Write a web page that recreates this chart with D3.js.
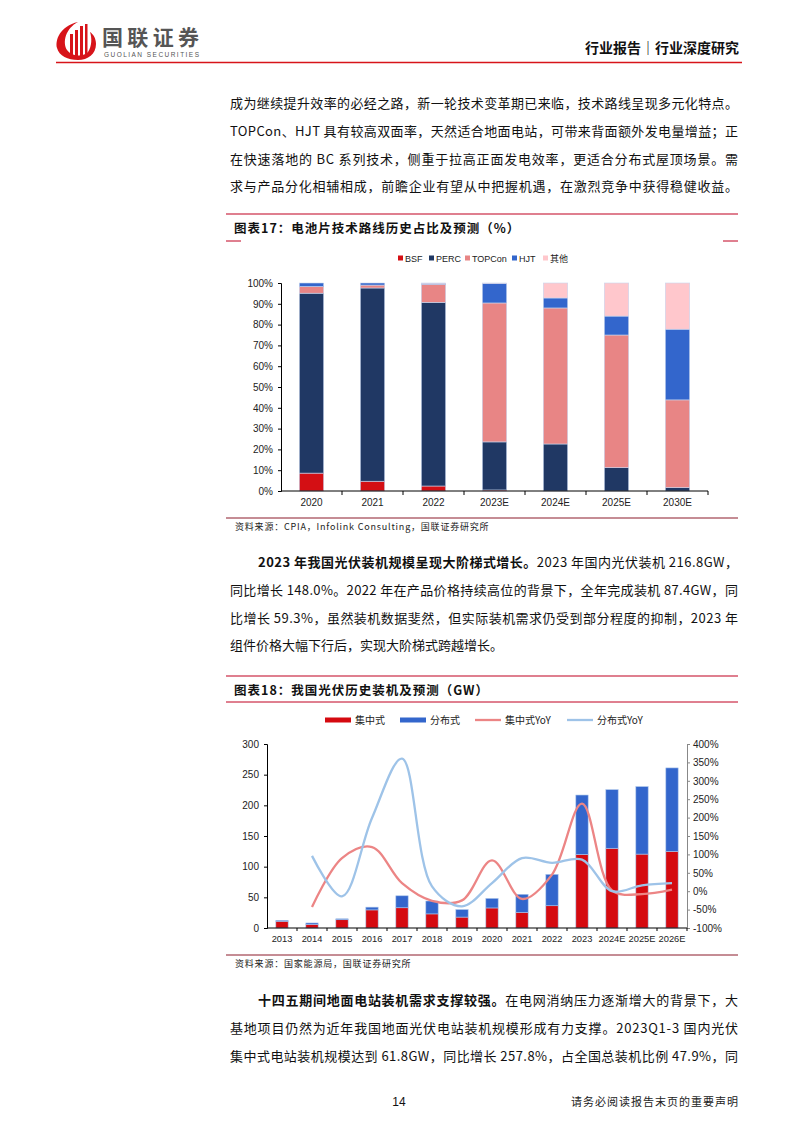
<!DOCTYPE html>
<html><head><meta charset="utf-8">
<script src="https://cdn.jsdelivr.net/npm/d3@7"></script>
<style>
body{margin:0;background:#fff;}
svg{display:block;}
text{font-family:"Noto Sans CJK SC","Noto Sans",sans-serif;}
.num{font-family:"Liberation Sans",Arial,sans-serif;}
</style></head>
<body>
<svg id="page" width="794" height="1123"></svg>
<script>
// ---------- Data: chart 17 ----------
const techCats = ["2020","2021","2022","2023E","2024E","2025E","2030E"];
const bsf    = [8.6, 4.7, 2.4, 0.5, 0, 0, 0];
const perc   = [86.5, 92.9, 88.3, 23.1, 22.6, 11.2, 1.6];
const topcon = [3.2, 1.4, 8.7, 66.8, 65.4, 63.8, 42.2];
const hjt    = [1.7, 1.0, 0.4, 9.4, 4.8, 9.1, 34.0];
const other  = [0, 0, 0.2, 0.2, 7.2, 15.9, 22.2];
const techNames = ["BSF","PERC","TOPCon","HJT","其他"];
const pctTicks = [0,10,20,30,40,50,60,70,80,90,100];

// ---------- Data: chart 18 ----------
const years = ["2013","2014","2015","2016","2017","2018","2019","2020","2021","2022","2023","2024E","2025E","2026E"];
const central     = [11, 6, 13.5, 29.5, 33, 23, 17.8, 32.7, 25.6, 36.3, 120, 130, 120.5, 125];
const distributed = [1.5, 2.2, 1.5, 4.5, 19.5, 21, 12.2, 15.5, 29.3, 51.1, 96.8, 95.5, 110, 136];
const centralYoY  = [null, -43, 90, 120, 22, -26, -25, 84, -21, 45, 238, 2, -8, 4];
const distYoY     = [null, 96, -14, 199, 360, 13, -41, 22, 90, 77, 86, 0, 16, 22];
const gwTicks = [0,50,100,150,200,250,300];
const yoyTicks = [-100,-50,0,50,100,150,200,250,300,350,400];
const installNames = ["集中式","分布式","集中式YoY","分布式YoY"];

const svg = d3.select("#page");
const RED = "#c00020";

// ---------- Header ----------
const logo = svg.append("g");
logo.append("path").attr("d","M78,22 C60,26 55,40 57,48 C59,56 68,60 78,60 C88,60 96,54 96,44 C96,38 93,34 90,32 C92,38 92,46 88,52 C84,57 72,57 67,50 C62,42 66,28 78,22 Z").attr("fill","#d7141a");
[[70,34,3,22],[75,30,3,26],[80,26,3,30],[85,24,2.5,30]].forEach(b=>logo.append("rect").attr("x",b[0]).attr("y",b[1]).attr("width",b[2]).attr("height",b[3]).attr("fill","#d7141a"));
svg.append("text").attr("x",102).attr("y",45).attr("font-size",21).attr("font-weight",700).attr("fill","#555").attr("textLength",97).text("国联证券");
svg.append("text").attr("class","num").attr("x",104).attr("y",57).attr("font-size",6.5).attr("fill","#555").attr("textLength",95).text("GUOLIAN SECURITIES");
svg.append("text").attr("x",739).attr("y",53).attr("text-anchor","end").attr("font-size",14).attr("font-weight",700).attr("fill","#111").text("行业报告｜行业深度研究");
svg.append("line").attr("x1",56).attr("x2",742).attr("y1",62.5).attr("y2",62.5).attr("stroke","#d7141a").attr("stroke-width",1.5);

// ---------- Body text helpers ----------
function para(lines, y0, gap){
  lines.forEach((ln,i)=>{
    const t = svg.append("text").attr("x",ln.x).attr("y",y0+i*gap).attr("font-size",13).attr("fill","#111");
    if(ln.justify) t.attr("textLength",738-ln.x).attr("lengthAdjust","spacing");
    ln.parts.forEach(p=>t.append("tspan").attr("font-weight",p[1]?700:400).text(p[0]));
  });
}
para([
 {x:230,justify:true,parts:[["成为继续提升效率的必经之路，新一轮技术变革期已来临，技术路线呈现多元化特点。"]]},
 {x:230,justify:true,parts:[["TOPCon、HJT 具有较高双面率，天然适合地面电站，可带来背面额外发电量增益；正"]]},
 {x:230,justify:true,parts:[["在快速落地的 BC 系列技术，侧重于拉高正面发电效率，更适合分布式屋顶场景。需"]]},
 {x:230,justify:true,parts:[["求与产品分化相辅相成，前瞻企业有望从中把握机遇，在激烈竞争中获得稳健收益。"]]}
],108,27.8);
para([
 {x:258,justify:true,parts:[["2023 年我国光伏装机规模呈现大阶梯式增长。",true],["2023 年国内光伏装机 216.8GW，"]]},
 {x:230,justify:true,parts:[["同比增长 148.0%。2022 年在产品价格持续高位的背景下，全年完成装机 87.4GW，同"]]},
 {x:230,justify:true,parts:[["比增长 59.3%，虽然装机数据斐然，但实际装机需求仍受到部分程度的抑制，2023 年"]]},
 {x:230,justify:false,parts:[["组件价格大幅下行后，实现大阶梯式跨越增长。"]]}
],567,27.8);
para([
 {x:258,justify:true,parts:[["十四五期间地面电站装机需求支撑较强。",true],["在电网消纳压力逐渐增大的背景下，大"]]},
 {x:230,justify:true,parts:[["基地项目仍然为近年我国地面光伏电站装机规模形成有力支撑。2023Q1-3 国内光伏"]]},
 {x:230,justify:true,parts:[["集中式电站装机规模达到 61.8GW，同比增长 257.8%，占全国总装机比例 47.9%，同"]]}
],1005,27.8);

// ---------- Chart title frames ----------
function titleFrame(yTop, yBot, title, fullBottom){
  svg.append("line").attr("x1",226).attr("x2",738).attr("y1",yTop).attr("y2",yTop).attr("stroke",RED).attr("stroke-width",1.2);
  svg.append("text").attr("x",234).attr("y",yTop+19).attr("font-size",12.5).attr("font-weight",700).attr("fill","#111").attr("letter-spacing",1).text(title);
  if(fullBottom){
    svg.append("line").attr("x1",226).attr("x2",738).attr("y1",yBot).attr("y2",yBot).attr("stroke",RED).attr("stroke-width",1);
  } else {
    svg.append("line").attr("x1",226).attr("x2",241).attr("y1",yBot).attr("y2",yBot).attr("stroke",RED).attr("stroke-width",1);
    svg.append("line").attr("x1",723).attr("x2",738).attr("y1",yBot).attr("y2",yBot).attr("stroke",RED).attr("stroke-width",1);
  }
}
function sourceFrame(y, txt){
  svg.append("line").attr("x1",226).attr("x2",738).attr("y1",y).attr("y2",y).attr("stroke","#8b1a2b").attr("stroke-width",1);
  svg.append("text").attr("x",235).attr("y",y+12).attr("font-size",9).attr("fill","#222").attr("letter-spacing",0.8).text(txt);
}
titleFrame(214,241,"图表17：电池片技术路线历史占比及预测（%）",false);
sourceFrame(518,"资料来源：CPIA，Infolink Consulting，国联证券研究所");
titleFrame(676,702,"图表18：我国光伏历史装机及预测（GW）",true);
sourceFrame(955,"资料来源：国家能源局，国联证券研究所");

// ---------- Chart 17 ----------
{
  const colors = ["#d40f14","#203864","#e88585","#3366cc","#ffc7cc"];
  const series = [bsf, perc, topcon, hjt, other];
  const x = d3.scaleBand().domain(techCats).range([281,708]).paddingInner(0.6).paddingOuter(0.3);
  const y = d3.scaleLinear().domain([0,100]).range([491,283]);
  const g = svg.append("g");
  const rows = techCats.map((c,i)=>{const o={cat:c}; techNames.forEach((n,k)=>o[n]=series[k][i]); return o;});
  const stack = d3.stack().keys(techNames)(rows);
  stack.forEach((s,k)=>{
    g.append("g").selectAll("rect").data(s).join("rect")
      .attr("x",d=>x(d.data.cat)).attr("width",x.bandwidth())
      .attr("y",d=>y(d[1])).attr("height",d=>Math.max(0,y(d[0])-y(d[1])))
      .attr("fill",colors[k]).attr("stroke",d=>(d[1]-d[0])>0?"#c9d6ee":"none").attr("stroke-width",0.6);
  });
  const ya = g.append("g").attr("transform","translate(281,0)")
    .call(d3.axisLeft(y).tickValues(pctTicks).tickFormat(d=>d+"%").tickSize(3).tickPadding(5));
  ya.selectAll("text").attr("class","num").attr("font-size",10).attr("fill","#222");
  ya.select(".domain").attr("stroke","#000");
  const xa = g.append("g").attr("transform","translate(0,491)")
    .call(d3.axisBottom(x).tickSize(0).tickPadding(8));
  xa.selectAll("text").attr("class","num").attr("font-size",10).attr("fill","#222");
  xa.select(".domain").attr("stroke","#000").attr("d","M281,0H708");
  const step = x.step();
  g.append("g").selectAll("line").data(techCats).join("line")
    .attr("x1",(d,i)=>281+step*(i+1)).attr("x2",(d,i)=>281+step*(i+1)).attr("y1",491).attr("y2",495).attr("stroke","#000");
  // legend
  const lx = [398,429,465,512,543];
  techNames.forEach((n,k)=>{
    g.append("rect").attr("x",lx[k]).attr("y",255.5).attr("width",5).attr("height",5).attr("fill",colors[k]);
    g.append("text").attr("class",k<4?"num":"").attr("x",lx[k]+7).attr("y",262).attr("font-size",k<4?9:9).attr("fill","#222").text(n);
  });
}

// ---------- Chart 18 ----------
{
  const x = d3.scaleBand().domain(years).range([267,687]).paddingInner(0.59).paddingOuter(0.295);
  const y = d3.scaleLinear().domain([0,300]).range([928,744]);
  const y2 = d3.scaleLinear().domain([-100,400]).range([928,744]);
  const g = svg.append("g");
  const rows = years.map((c,i)=>({cat:c, c:central[i], d:distributed[i]}));
  const stack = d3.stack().keys(["c","d"])(rows);
  const cols = ["#d50a10","#3366cc"];
  stack.forEach((s,k)=>{
    g.append("g").selectAll("rect").data(s).join("rect")
      .attr("x",d=>x(d.data.cat)).attr("width",x.bandwidth())
      .attr("y",d=>y(d[1])).attr("height",d=>y(d[0])-y(d[1]))
      .attr("fill",cols[k]).attr("stroke","#a9c4ea").attr("stroke-width",0.6);
  });
  const cx = d=>x(d)+x.bandwidth()/2;
  const line = d3.line().defined(d=>d.v!==null).x(d=>cx(d.cat)).y(d=>y2(d.v)).curve(d3.curveCatmullRom.alpha(0.5));
  g.append("path").datum(years.map((c,i)=>({cat:c,v:centralYoY[i]})))
    .attr("d",line).attr("fill","none").attr("stroke","#ec8585").attr("stroke-width",2.3);
  g.append("path").datum(years.map((c,i)=>({cat:c,v:distYoY[i]})))
    .attr("d",line).attr("fill","none").attr("stroke","#9ec3e8").attr("stroke-width",2.3);
  const ya = g.append("g").attr("transform","translate(267,0)")
    .call(d3.axisLeft(y).tickValues(gwTicks).tickSize(3).tickPadding(5));
  ya.selectAll("text").attr("class","num").attr("font-size",10).attr("fill","#222");
  ya.select(".domain").attr("stroke","#000");
  const yr = g.append("g").attr("transform","translate(687,0)")
    .call(d3.axisRight(y2).tickValues(yoyTicks).tickFormat(d=>d+"%").tickSize(3).tickPadding(3));
  yr.selectAll("text").attr("class","num").attr("font-size",10).attr("fill","#222");
  yr.selectAll("line").attr("stroke","#888");
  yr.select(".domain").attr("stroke","#888");
  const xa = g.append("g").attr("transform","translate(0,928)")
    .call(d3.axisBottom(x).tickSize(0).tickPadding(7));
  xa.selectAll("text").attr("class","num").attr("font-size",9.3).attr("fill","#222");
  xa.select(".domain").attr("stroke","#000").attr("d","M267,0H687");
  const step = x.step();
  g.append("g").selectAll("line").data(years).join("line")
    .attr("x1",(d,i)=>267+step*(i+1)).attr("x2",(d,i)=>267+step*(i+1)).attr("y1",928).attr("y2",931).attr("stroke","#000");
  // legend
  const lx = [325,400,475,567];
  installNames.forEach((n,k)=>{
    if(k<2) g.append("rect").attr("x",lx[k]).attr("y",717.5).attr("width",26).attr("height",5).attr("fill",cols[k]);
    else g.append("line").attr("x1",lx[k]).attr("x2",lx[k]+26).attr("y1",720).attr("y2",720).attr("stroke",k===2?"#ec8585":"#9ec3e8").attr("stroke-width",2.3);
    g.append("text").attr("x",lx[k]+30).attr("y",724).attr("font-size",10).attr("fill","#222").text(n);
  });
}

// ---------- Footer ----------
svg.append("text").attr("class","num").attr("x",399).attr("y",1106).attr("text-anchor","middle").attr("font-size",12).attr("fill","#111").text("14");
svg.append("text").attr("x",739).attr("y",1106).attr("text-anchor","end").attr("font-size",11).attr("fill","#222").attr("letter-spacing",1).text("请务必阅读报告末页的重要声明");
</script>
</body></html>
